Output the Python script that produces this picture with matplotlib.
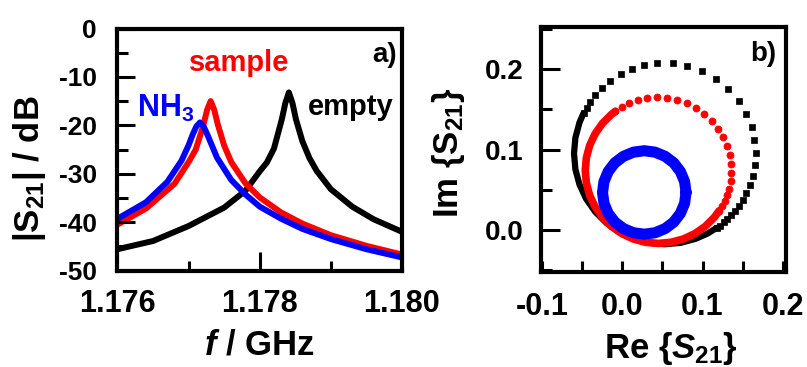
import matplotlib
matplotlib.use('Agg')
import matplotlib.pyplot as plt
from matplotlib.ticker import MultipleLocator, FormatStrFormatter

plt.rcParams['font.family'] = ['Liberation Sans', 'DejaVu Sans']
plt.rcParams['font.weight'] = 'bold'
plt.rcParams['axes.labelweight'] = 'bold'
plt.rcParams['axes.unicode_minus'] = False
plt.rcParams['mathtext.fontset'] = 'custom'
plt.rcParams['mathtext.rm'] = 'Liberation Sans:bold'
plt.rcParams['mathtext.it'] = 'Liberation Sans:bold:italic'
plt.rcParams['mathtext.bf'] = 'Liberation Sans:bold'
plt.rcParams['axes.linewidth'] = 3
plt.rcParams['xtick.direction'] = 'in'
plt.rcParams['ytick.direction'] = 'in'
plt.rcParams['xtick.labelsize'] = 22
plt.rcParams['ytick.labelsize'] = 19

# a) transmission spectra |S21| in dB (read off the figure)
f_empty = [1.1760, 1.1765, 1.1770, 1.1775, 1.1778, 1.1780, 1.1781, 1.1782, 1.17831, 1.17836,
           1.17841, 1.17846, 1.17851, 1.1786, 1.1787, 1.1788, 1.1790, 1.1793, 1.1796, 1.1800]
db_empty = [-45.6, -43.9, -40.8, -37.0, -33.5, -29.5, -27.7, -24.8, -18.8, -15.4,
            -13.2, -15.4, -18.8, -23.3, -26.8, -29.4, -33.2, -36.8, -39.4, -42.0]

f_sample = [1.1760, 1.1764, 1.1768, 1.1770, 1.1771, 1.1772, 1.17726, 1.17731, 1.17736, 1.17741,
            1.1775, 1.1776, 1.1778, 1.1780, 1.1783, 1.1786, 1.1790, 1.1795, 1.1800]
db_sample = [-40.5, -37.2, -32.1, -27.6, -25.0, -20.4, -16.8, -15.0, -16.8, -19.8,
             -24.2, -27.6, -32.0, -34.9, -38.0, -40.3, -42.7, -44.9, -46.7]

f_nh3 = [1.1760, 1.1764, 1.1767, 1.1769, 1.1770, 1.17706, 1.17711, 1.17716, 1.17721, 1.17726,
         1.1774, 1.1776, 1.1778, 1.1780, 1.1783, 1.1786, 1.1790, 1.1795, 1.1800]
db_nh3 = [-39.3, -35.9, -31.7, -27.3, -24.1, -21.8, -20.2, -19.4, -20.2, -21.8,
          -26.7, -31.3, -34.3, -36.8, -39.3, -41.4, -43.5, -45.6, -47.3]

# b) complex S21, separated points (sparse part) and the densely packed part of each circle
re_empty = [-0.0481, -0.0444, -0.0396, -0.0336, -0.0255, -0.0150, -0.0018, 0.0116, 0.0276, 0.0437,
            0.0627, 0.0813, 0.0999, 0.1165, 0.1322, 0.1450, 0.1546, 0.1611, 0.1647, 0.1660,
            0.1650, 0.1624, 0.1588, 0.1546, 0.1499, 0.1450, 0.1402, 0.1356, 0.1308, 0.1264,
            0.1218, 0.1178]
im_empty = [0.1454, 0.1523, 0.1598, 0.1676, 0.1763, 0.1852, 0.1938, 0.2001, 0.2051, 0.2076,
            0.2076, 0.2044, 0.1978, 0.1885, 0.1756, 0.1606, 0.1445, 0.1280, 0.1119, 0.0956,
            0.0803, 0.0667, 0.0554, 0.0455, 0.0368, 0.0294, 0.0231, 0.0179, 0.0130, 0.0091,
            0.0053, 0.0024]
re_empty_arc = [0.1178, 0.1061, 0.0916, 0.0726, 0.0530, 0.0334, 0.0144, -0.0035, -0.0196,
                -0.0336, -0.0449, -0.0532, -0.0583, -0.0600, -0.0583, -0.0532, -0.0481]
im_empty_arc = [0.0024, -0.0048, -0.0112, -0.0163, -0.0180, -0.0163, -0.0112, -0.0029, 0.0084,
                0.0224, 0.0385, 0.0564, 0.0754, 0.0950, 0.1146, 0.1336, 0.1454]

re_sample = [-0.0085, -0.0005, 0.0087, 0.0192, 0.0308, 0.0434, 0.0561, 0.0686, 0.0806, 0.0919,
             0.1023, 0.1116, 0.1195, 0.1261, 0.1308, 0.1340, 0.1357, 0.1359, 0.1350, 0.1331,
             0.1305, 0.1275, 0.1242, 0.1209]
im_sample = [0.1476, 0.1528, 0.1575, 0.1613, 0.1639, 0.1650, 0.1643, 0.1619, 0.1578, 0.1520,
             0.1447, 0.1361, 0.1262, 0.1153, 0.1044, 0.0929, 0.0819, 0.0708, 0.0605, 0.0512,
             0.0429, 0.0355, 0.0292, 0.0238]
re_sample_arc = [0.1209, 0.1147, 0.1035, 0.0905, 0.0761, 0.0608, 0.0450, 0.0292, 0.0139, -0.0005,
                 -0.0135, -0.0247, -0.0338, -0.0405, -0.0446, -0.0460, -0.0446, -0.0405, -0.0338,
                 -0.0247, -0.0135, -0.0085]
im_sample_arc = [0.0238, 0.0155, 0.0043, -0.0048, -0.0115, -0.0156, -0.0170, -0.0156, -0.0115, -0.0048,
                 0.0043, 0.0155, 0.0285, 0.0429, 0.0582, 0.0740, 0.0898, 0.1051, 0.1195,
                 0.1325, 0.1437, 0.1476]

re_nh3 = [0.0795, 0.0777, 0.0725, 0.0643, 0.0535, 0.0410, 0.0275, 0.0140, 0.0015, -0.0093,
          -0.0175, -0.0227, -0.0245, -0.0227, -0.0175, -0.0093, 0.0015, 0.0140, 0.0275, 0.0410,
          0.0535, 0.0643, 0.0725, 0.0777, 0.0795]
im_nh3 = [0.0465, 0.0600, 0.0725, 0.0833, 0.0915, 0.0967, 0.0985, 0.0967, 0.0915, 0.0833,
          0.0725, 0.0600, 0.0465, 0.0330, 0.0205, 0.0097, 0.0015, -0.0037, -0.0055, -0.0037,
          0.0015, 0.0097, 0.0205, 0.0330, 0.0465]

fig = plt.figure(figsize=(8.07, 3.67), dpi=100)

# ---- panel a)
ax1 = fig.add_axes([0.1456, 0.2629, 0.3525, 0.6594])
ax1.plot(f_empty, db_empty, color='black', lw=4.3)
ax1.plot(f_sample, db_sample, color='#ff0000', lw=4.3)
ax1.plot(f_nh3, db_nh3, color='#0000ff', lw=4.3)
ax1.set_xlim(1.176, 1.180)
ax1.set_ylim(-50, 0)
ax1.xaxis.set_major_locator(MultipleLocator(0.002))
ax1.xaxis.set_minor_locator(MultipleLocator(0.001))
ax1.yaxis.set_major_locator(MultipleLocator(10))
ax1.yaxis.set_minor_locator(MultipleLocator(5))
ax1.xaxis.set_major_formatter(FormatStrFormatter('%.3f'))

ax1.text(1.17700, -8.8, 'sample', color='#ff0000', fontsize=21, ha='left', va='baseline')
ax1.text(1.17627, -18.2, r'NH$_{3}$', color='#0000ff', fontsize=22, ha='left', va='baseline')
ax1.text(1.17867, -17.9, 'empty', color='black', fontsize=21, ha='left', va='baseline')
ax1.text(0.982, 0.863, 'a)', transform=ax1.transAxes, fontsize=20, ha='right', va='baseline')

ax1.set_xlabel(r'$f$ / GHz', fontsize=25)
ax1.set_ylabel(r'|$\mathrm{S}_{21}$| / dB', fontsize=25)
ax1.xaxis.set_label_coords(0.5, -0.238)
ax1.yaxis.set_label_coords(-0.244, 0.421)

# ---- panel b)
ax2 = fig.add_axes([0.6710, 0.2602, 0.3030, 0.6654])
ax2.plot(re_empty_arc, im_empty_arc, color='black', lw=4.5, solid_capstyle='round')
ax2.plot(re_empty, im_empty, 's', color='black', ms=4.0, mec='black', mew=0.5)
ax2.plot(re_sample_arc, im_sample_arc, color='#ff0000', lw=5.5, solid_capstyle='round')
ax2.plot(re_sample, im_sample, 'o', color='#ff0000', ms=5.1, mec='#ff0000', mew=0.5)
ax2.plot(re_nh3, im_nh3, color='#0000ff', lw=8, solid_capstyle='round')
ax2.set_xlim(-0.1005, 0.204)
ax2.set_ylim(-0.052, 0.2523)
ax2.xaxis.set_major_locator(MultipleLocator(0.1))
ax2.xaxis.set_minor_locator(MultipleLocator(0.05))
ax2.yaxis.set_major_locator(MultipleLocator(0.1))
ax2.yaxis.set_minor_locator(MultipleLocator(0.05))
ax2.xaxis.set_major_formatter(FormatStrFormatter('%.1f'))
ax2.yaxis.set_major_formatter(FormatStrFormatter('%.1f'))

ax2.text(0.962, 0.862, 'b)', transform=ax2.transAxes, fontsize=20, ha='right', va='baseline')
ax2.set_xlabel(r'Re {$S_{\mathrm{21}}$}', fontsize=25)
ax2.set_ylabel(r'Im {$\mathrm{S}_{21}$}', fontsize=25)
ax2.xaxis.set_label_coords(0.53, -0.24)
ax2.yaxis.set_label_coords(-0.306, 0.484)

# ticks and frame, set last so nothing overrides them
ax1.tick_params(axis='x', which='major', direction='in', length=14, width=2.2, color='black',
                bottom=True, pad=13, labelsize=22)
ax1.tick_params(axis='x', which='minor', direction='in', length=7, width=2.2, color='black', bottom=True)
ax1.tick_params(axis='y', which='major', direction='in', length=13, width=2.2, color='black',
                left=True, pad=15, labelsize=19)
ax1.tick_params(axis='y', which='minor', direction='in', length=8, width=2.2, color='black', left=True)
ax2.tick_params(axis='x', which='both', direction='in', length=8, width=2.2, color='black', bottom=True)
ax2.tick_params(axis='x', which='major', pad=15, labelsize=22)
ax2.tick_params(axis='y', which='major', direction='in', length=13.5, width=2.2, color='black',
                left=True, pad=13, labelsize=20)
ax2.tick_params(axis='y', which='minor', direction='in', length=8, width=2.2, color='black', left=True)
for ax in (ax1, ax2):
    ax.set_axisbelow(False)
    for sp in ax.spines.values():
        sp.set_linewidth(3)
        sp.set_color('black')

fig.savefig('out.png', dpi=100)
